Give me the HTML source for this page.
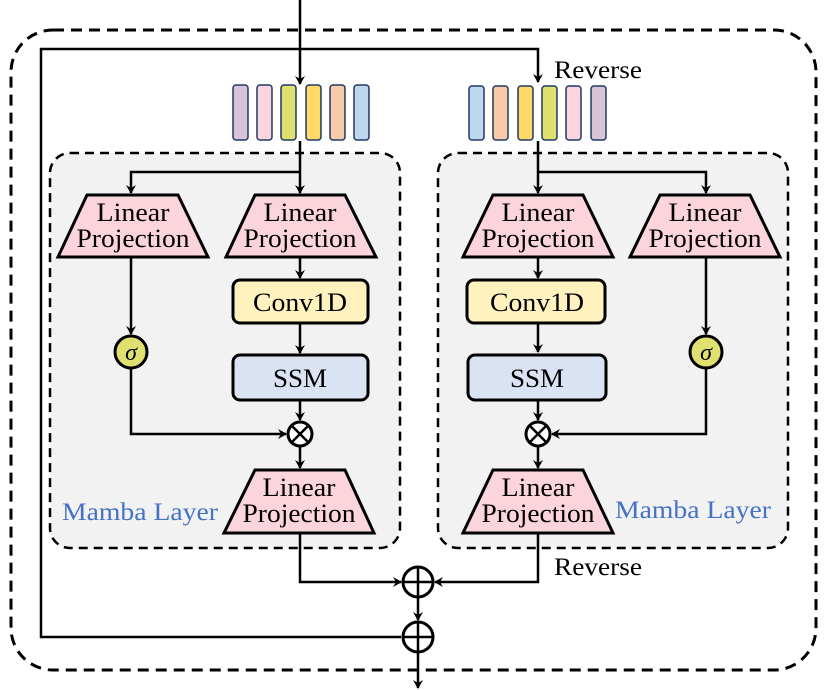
<!DOCTYPE html>
<html><head><meta charset="utf-8"><style>html,body{margin:0;padding:0;background:#fff}svg{display:block}svg text{font-family:"Liberation Serif","Times New Roman",Times,serif}</style></head>
<body>
<svg width="830" height="690" viewBox="0 0 830 690" xmlns="http://www.w3.org/2000/svg">
<defs>
<marker id="a" markerWidth="10" markerHeight="10" refX="8" refY="5" orient="auto" markerUnits="userSpaceOnUse">
<path d="M0,0 L9,5 L0,10 L3,5 Z" fill="#000"/></marker>
</defs>
<rect x="11" y="30" width="805" height="640" rx="42" fill="none" stroke="#000" stroke-width="3" stroke-dasharray="11,7"/>
<rect x="50" y="153" width="350" height="395" rx="20" fill="#f2f2f2" stroke="#000" stroke-width="2.5" stroke-dasharray="9,6"/>
<rect x="438" y="153" width="350" height="395" rx="20" fill="#f2f2f2" stroke="#000" stroke-width="2.5" stroke-dasharray="9,6"/>
<g stroke="#000" stroke-width="2.5" fill="none">
<line x1="300" y1="0" x2="300" y2="84" marker-end="url(#a)"/>
<polyline points="401,637 41,637 41,49 538,49 538,82" marker-end="url(#a)"/>
<polyline points="300,141 300,193" marker-end="url(#a)"/>
<polyline points="300,172 131,172 131,193" marker-end="url(#a)"/>
<line x1="300" y1="257" x2="300" y2="278" marker-end="url(#a)"/>
<line x1="300" y1="323" x2="300" y2="353" marker-end="url(#a)"/>
<line x1="300" y1="400" x2="300" y2="420" marker-end="url(#a)"/>
<line x1="300" y1="446" x2="300" y2="468" marker-end="url(#a)"/>
<line x1="131" y1="257" x2="131" y2="334" marker-end="url(#a)"/>
<polyline points="131,369 131,434 286,434" marker-end="url(#a)"/>
<polyline points="300,533 300,582 401,582" marker-end="url(#a)"/>
<polyline points="538,141 538,193" marker-end="url(#a)"/>
<polyline points="538,172 706,172 706,193" marker-end="url(#a)"/>
<line x1="538" y1="257" x2="538" y2="278" marker-end="url(#a)"/>
<line x1="538" y1="323" x2="538" y2="352" marker-end="url(#a)"/>
<line x1="538" y1="400" x2="538" y2="420" marker-end="url(#a)"/>
<line x1="538" y1="446" x2="538" y2="468" marker-end="url(#a)"/>
<line x1="706" y1="257" x2="706" y2="334" marker-end="url(#a)"/>
<polyline points="706,369 706,434 552,434" marker-end="url(#a)"/>
<polyline points="538,533 538,582 435,582" marker-end="url(#a)"/>
<line x1="418" y1="597" x2="418" y2="620" marker-end="url(#a)"/>
<line x1="418" y1="652" x2="418" y2="688" marker-end="url(#a)"/>
</g>
<g stroke="#1f3864" stroke-width="1.5">
<rect x="233" y="85" width="15" height="55" rx="3" fill="#d9c3d9"/>
<rect x="257" y="85" width="15" height="55" rx="3" fill="#fcd5dc"/>
<rect x="281" y="85" width="15" height="55" rx="3" fill="#dfe06f"/>
<rect x="306" y="85" width="15" height="55" rx="3" fill="#fed966"/>
<rect x="330" y="85" width="15" height="55" rx="3" fill="#f8cba8"/>
<rect x="354" y="85" width="15" height="55" rx="3" fill="#bdd7ee"/>
<rect x="469" y="86" width="15" height="54" rx="3" fill="#bdd7ee"/>
<rect x="493" y="86" width="15" height="54" rx="3" fill="#f8cba8"/>
<rect x="518" y="86" width="15" height="54" rx="3" fill="#fed966"/>
<rect x="542" y="86" width="15" height="54" rx="3" fill="#dfe06f"/>
<rect x="566" y="86" width="15" height="54" rx="3" fill="#fcd5dc"/>
<rect x="591" y="86" width="15" height="54" rx="3" fill="#d9c3d9"/>
</g>
<g fill="#fcd5dc" stroke="#000" stroke-width="3">
<polygon points="87,195 178,195 208,257 58,257"/>
<polygon points="255,195 345,195 376,257 226,257"/>
<polygon points="255,470 345,470 374,533 224,533"/>
<polygon points="493,195 583,195 613,257 463,257"/>
<polygon points="660,195 750,195 780,257 630,257"/>
<polygon points="493,470 583,470 613,533 463,533"/>
</g>
<g stroke="#000" stroke-width="3">
<rect x="233" y="280" width="135" height="43" rx="7" fill="#fff2bf"/>
<rect x="233" y="355" width="135" height="45" rx="7" fill="#dae3f3"/>
<rect x="467" y="280" width="138" height="43" rx="7" fill="#fff2bf"/>
<rect x="468" y="355" width="138" height="45" rx="7" fill="#dae3f3"/>
<circle cx="131" cy="352" r="16" fill="#dfe06f"/>
<circle cx="706" cy="352" r="16" fill="#dfe06f"/>
<circle cx="300" cy="434" r="12" fill="#fff"/>
<circle cx="538" cy="434" r="12" fill="#fff"/>
<circle cx="418" cy="582" r="15" fill="#fff"/>
<circle cx="418" cy="637" r="15" fill="#fff"/>
</g>
<g stroke="#000" stroke-width="2.5">
<line x1="292" y1="426" x2="308" y2="442"/><line x1="308" y1="426" x2="292" y2="442"/>
<line x1="530" y1="426" x2="546" y2="442"/><line x1="546" y1="426" x2="530" y2="442"/>
<line x1="403" y1="582" x2="433" y2="582"/><line x1="418" y1="567" x2="418" y2="597"/>
<line x1="403" y1="637" x2="433" y2="637"/><line x1="418" y1="622" x2="418" y2="652"/>
</g>
<g font-size="26" text-anchor="middle" fill="#000" lengthAdjust="spacingAndGlyphs">
<text x="133" y="221" textLength="73" lengthAdjust="spacingAndGlyphs">Linear</text><text x="133" y="247" textLength="113" lengthAdjust="spacingAndGlyphs">Projection</text>
<text x="300" y="221" textLength="73" lengthAdjust="spacingAndGlyphs">Linear</text><text x="300" y="247" textLength="113" lengthAdjust="spacingAndGlyphs">Projection</text>
<text x="299" y="496" textLength="73" lengthAdjust="spacingAndGlyphs">Linear</text><text x="299" y="522" textLength="113" lengthAdjust="spacingAndGlyphs">Projection</text>
<text x="538" y="221" textLength="73" lengthAdjust="spacingAndGlyphs">Linear</text><text x="538" y="247" textLength="113" lengthAdjust="spacingAndGlyphs">Projection</text>
<text x="705" y="221" textLength="73" lengthAdjust="spacingAndGlyphs">Linear</text><text x="705" y="247" textLength="113" lengthAdjust="spacingAndGlyphs">Projection</text>
<text x="538" y="496" textLength="73" lengthAdjust="spacingAndGlyphs">Linear</text><text x="538" y="522" textLength="113" lengthAdjust="spacingAndGlyphs">Projection</text>
<text x="300" y="311" textLength="94" lengthAdjust="spacingAndGlyphs">Conv1D</text><text x="537" y="311" textLength="94" lengthAdjust="spacingAndGlyphs">Conv1D</text>
<text x="300" y="387" textLength="54" lengthAdjust="spacingAndGlyphs">SSM</text><text x="537" y="387" textLength="54" lengthAdjust="spacingAndGlyphs">SSM</text>
<text x="131" y="360" font-style="italic" font-size="24">σ</text>
<text x="706" y="360" font-style="italic" font-size="24">σ</text>
</g>
<g font-size="25" fill="#000">
<text x="554" y="78" textLength="88" lengthAdjust="spacingAndGlyphs">Reverse</text>
<text x="554" y="575" textLength="88" lengthAdjust="spacingAndGlyphs">Reverse</text>
</g>
<g font-size="25" fill="#4472c4">
<text x="62" y="520" textLength="156" lengthAdjust="spacingAndGlyphs">Mamba Layer</text>
<text x="615" y="518" textLength="156" lengthAdjust="spacingAndGlyphs">Mamba Layer</text>
</g>
</svg>
</body></html>
